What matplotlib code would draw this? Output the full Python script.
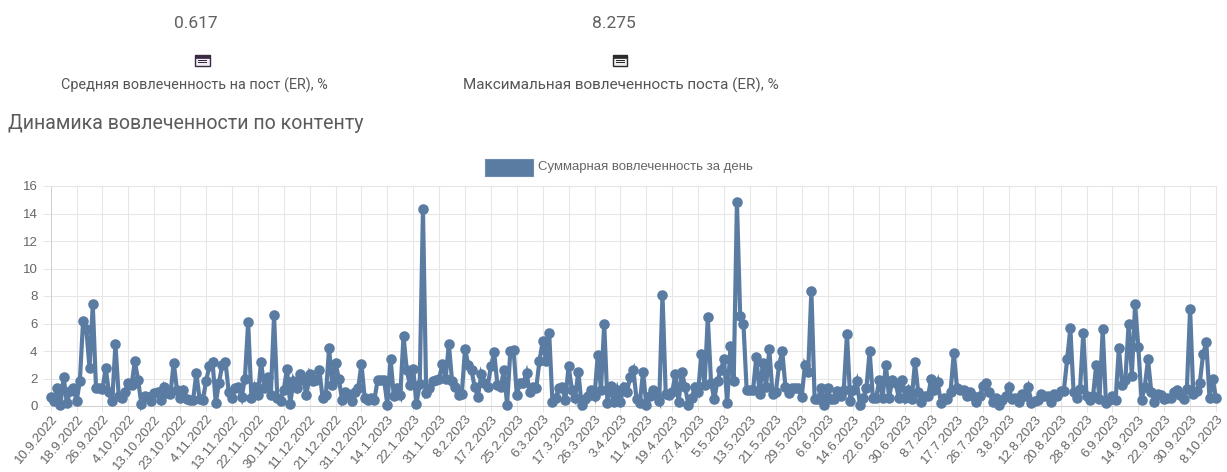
"""
Engagement dynamics chart, with the two ER summary figures above it
"""
import matplotlib
matplotlib.use('Agg')
import matplotlib.pyplot as plt
from matplotlib.patches import Rectangle

W, H = 1227, 472
BLUE = "#5A7CA3"
TEXT = "#555555"
TICK = "#666666"
GRID = "#E6E6E6"

plt.rcParams.update({
    "font.family": ["Roboto", "DejaVu Sans"],
    "figure.dpi": 100,
})

tick_labels = [
    '10.9.2022', '18.9.2022', '26.9.2022', '4.10.2022', '13.10.2022', '23.10.2022',
    '4.11.2022', '13.11.2022', '22.11.2022', '30.11.2022', '11.12.2022', '21.12.2022',
    '31.12.2022', '14.1.2023', '22.1.2023', '31.1.2023', '8.2.2023', '17.2.2023',
    '25.2.2023', '6.3.2023', '17.3.2023', '26.3.2023', '3.4.2023', '11.4.2023',
    '19.4.2023', '27.4.2023', '5.5.2023', '13.5.2023', '21.5.2023', '29.5.2023',
    '6.6.2023', '14.6.2023', '22.6.2023', '30.6.2023', '8.7.2023', '17.7.2023',
    '26.7.2023', '3.8.2023', '12.8.2023', '20.8.2023', '28.8.2023', '6.9.2023',
    '14.9.2023', '22.9.2023', '30.9.2023', '8.10.2023',
]
y_ticks = [0, 2, 4, 6, 8, 10, 12, 14, 16]

# one value per day on the category axis
engagement = [
    0.65, 0.4, 1.3, 0.1, 2.1, 0.2, 1.1, 1.3, 0.35, 1.8, 6.15, 5.6, 2.75, 7.4, 1.3, 1.3,
    1.25, 2.75, 1.0, 0.35, 4.5, 0.75, 0.6, 1.05, 1.7, 1.55, 3.25, 1.9, 0.15, 0.7, 0.65, 0.4,
    0.95, 1.0, 0.45, 1.4, 0.95, 0.9, 3.15, 1.2, 0.6, 1.15, 0.5, 0.45, 0.45, 2.4, 0.5, 0.45,
    1.8, 2.9, 3.2, 0.2, 1.7, 3.0, 3.2, 1.0, 0.55, 1.3, 1.35, 0.65, 2.0, 6.1, 0.6, 1.4,
    0.8, 3.2, 1.3, 2.1, 0.8, 6.6, 0.6, 0.4, 1.2, 2.7, 0.15, 1.85, 1.3, 2.3, 1.9, 0.8,
    2.3, 1.8, 1.9, 2.6, 0.6, 0.8, 4.2, 1.5, 3.1, 2.0, 0.45, 1.0, 0.9, 0.35, 1.0, 1.3,
    3.05, 0.6, 0.45, 0.6, 0.45, 1.9, 1.9, 1.9, 0.1, 3.45, 0.7, 1.3, 0.8, 5.1, 2.6, 1.5,
    2.7, 0.15, 1.6, 14.3, 0.95, 1.3, 1.8, 1.9, 2.0, 3.05, 2.0, 4.5, 1.8, 1.4, 0.8, 0.85,
    4.15, 3.0, 2.6, 1.35, 0.65, 2.3, 1.7, 1.4, 2.9, 3.9, 1.55, 1.35, 2.6, 0.1, 4.0, 4.1,
    0.8, 1.7, 1.7, 2.4, 1.05, 1.35, 1.3, 3.3, 4.7, 3.3, 5.3, 0.3, 0.6, 1.3, 1.35, 0.45,
    2.9, 1.2, 0.6, 2.5, 0.1, 0.5, 0.7, 1.15, 0.7, 3.7, 1.2, 6.0, 0.2, 1.45, 0.3, 1.2,
    0.3, 1.4, 1.0, 2.1, 2.6, 0.5, 0.25, 2.45, 0.1, 0.7, 1.15, 0.8, 0.35, 8.1, 0.9, 0.8,
    1.0, 2.35, 0.3, 2.5, 1.35, 0.1, 0.55, 1.4, 1.0, 3.75, 1.5, 6.45, 1.7, 0.5, 1.85, 2.6,
    3.4, 0.25, 4.35, 1.8, 14.85, 6.55, 6.0, 1.2, 1.2, 1.2, 3.6, 0.9, 3.1, 1.4, 4.15, 0.85,
    1.0, 2.95, 4.0, 1.35, 0.95, 1.3, 1.3, 1.3, 0.65, 2.95, 2.45, 8.4, 0.5, 0.5, 1.3, 0.1,
    1.3, 0.5, 0.5, 1.1, 0.7, 1.15, 5.25, 0.4, 1.2, 1.8, 0.1, 0.6, 1.3, 4.0, 0.6, 0.6,
    1.9, 0.6, 3.0, 0.6, 1.9, 1.7, 0.6, 1.9, 0.6, 1.2, 0.5, 3.2, 1.0, 0.3, 0.7, 0.7,
    1.95, 1.15, 1.75, 0.25, 0.6, 0.5, 1.05, 3.85, 1.3, 1.2, 1.15, 0.7, 1.05, 0.7, 0.3, 0.7,
    1.45, 1.7, 1.0, 0.3, 0.55, 0.1, 0.45, 0.7, 1.35, 0.5, 0.55, 0.3, 0.9, 0.7, 1.35, 0.25,
    0.4, 0.45, 0.85, 0.7, 0.7, 0.3, 0.85, 0.7, 1.1, 1.1, 3.4, 5.65, 1.05, 0.6, 1.25, 5.3,
    0.75, 0.45, 0.7, 3.0, 0.5, 5.6, 0.25, 0.45, 0.7, 0.45, 4.25, 1.55, 1.9, 5.95, 2.2, 7.4,
    4.3, 0.45, 1.4, 3.4, 1.05, 0.3, 0.85, 0.8, 0.5, 0.6, 0.6, 1.05, 1.15, 0.8, 0.5, 1.25,
    7.05, 0.85, 1.1, 1.7, 3.75, 4.65, 0.55, 2.0, 0.55,
]
x_pos = list(range(len(engagement)))
tick_step = 8

fig = plt.figure(figsize=(W / 100, H / 100), dpi=100)

def fx(px): return px / W
def fy(px): return 1 - px / H

# plot area in pixels: x 50.7..1216, y 186..406
ax = fig.add_axes([fx(50.7), fy(406), (1216 - 50.7) / W, (406 - 186) / H])
ax.plot(x_pos, engagement, color=BLUE, lw=3, marker='o', ms=7.6, mew=0,
        solid_joinstyle='miter', clip_on=False, zorder=3)
ax.set_xlim(0, len(engagement) - 1)
ax.set_ylim(0, 16)
ax.set_yticks(y_ticks)
ax.set_xticks(x_pos[::tick_step])
ax.set_xticklabels(tick_labels, rotation=50, ha='right', va='top', rotation_mode='anchor',
                   fontsize=9.5, color=TICK, family=['Liberation Sans'])
for t in ax.get_yticklabels():
    t.set_fontsize(9.5)
    t.set_color(TICK)
    t.set_family(['Liberation Sans'])
ax.tick_params(axis='x', length=4, width=0.7, color=GRID, pad=1)
ax.tick_params(axis='y', length=5.5, width=0.7, color=GRID, pad=4)
ax.grid(True, color=GRID, linewidth=0.75)
ax.set_axisbelow(True)
for side in ['top', 'right']:
    ax.spines[side].set_color(GRID)
    ax.spines[side].set_linewidth(0.75)
for side in ['left', 'bottom']:
    ax.spines[side].set_color('#CFCFCF')
    ax.spines[side].set_linewidth(0.75)

# legend, placed by hand like the chart's centred top legend
fig.add_artist(Rectangle((fx(485), fy(176)), 48 / W, 17 / H, transform=fig.transFigure,
                         facecolor=BLUE, edgecolor='#6D8BAE', linewidth=0.8))
fig.text(fx(538), fy(167), 'Суммарная вовлеченность за день', fontsize=9.5, color=TICK,
         va='center', ha='left', family=['Liberation Sans'])

# summary figures
fig.text(fx(195.5), fy(23.5), '0.617', fontsize=12.5, color='#606060', ha='center', va='center')
fig.text(fx(614), fy(23.5), '8.275', fontsize=12.5, color='#606060', ha='center', va='center')
fig.text(fx(194.5), fy(85), 'Средняя вовлеченность на пост (ER), %', fontsize=10.4, color=TEXT,
         ha='center', va='center')
fig.text(fx(621), fy(85), 'Максимальная вовлеченность поста (ER), %', fontsize=11, color=TEXT,
         ha='center', va='center')
fig.text(fx(8), fy(123), 'Динамика вовлеченности по контенту', fontsize=14.1, color='#5C5C5C',
         ha='left', va='center')

# small list icons under the numbers
for cx, col in [(202, '#3A2A44'), (620, '#2B2B2B')]:
    fig.add_artist(Rectangle((fx(cx - 7.5), fy(66)), 15 / W, 11 / H, transform=fig.transFigure,
                             facecolor='#EFEFF2', edgecolor=col, linewidth=1))
    fig.add_artist(Rectangle((fx(cx - 7.5), fy(58)), 15 / W, 3 / H, transform=fig.transFigure,
                             facecolor=col, edgecolor=col, linewidth=0.5))
    for yy in [60.5, 62.5]:
        fig.add_artist(Rectangle((fx(cx - 4), fy(yy + 0.6)), 9 / W, 1.1 / H,
                                 transform=fig.transFigure, facecolor=col, linewidth=0))

fig.savefig("out.png", dpi=100)
plt.close()
